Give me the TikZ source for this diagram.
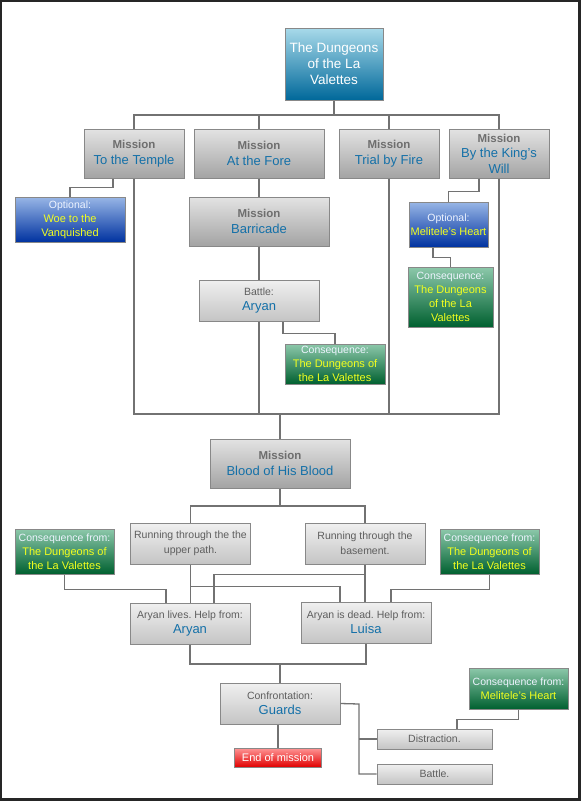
\documentclass[tikz,border=0pt]{standalone}
\usepackage{fontspec}
\setmainfont{Liberation Sans}
\frenchspacing
\definecolor{mgray}{HTML}{6E6E6E}
\definecolor{tblue}{HTML}{1470A8}
\definecolor{sgray}{HTML}{5E5E5E}
\definecolor{bordc}{HTML}{888888}
\definecolor{linec}{HTML}{727272}
\definecolor{ylw}{HTML}{F2FF1E}
\definecolor{pale}{HTML}{EEF4FF}
\newcommand\mlab[1]{{\bfseries\color{mgray}#1}}
\newcommand\ttl[1]{{\color{tblue}\fontsize{13}{16}\selectfont #1}}
\newcommand\yl[1]{{\color{ylw}\fontsize{11}{14}\selectfont #1}}
\tikzset{
  sz/.style 2 args={minimum width=#1pt, minimum height=#2pt},
  box/.style={draw=bordc, line width=1pt, inner sep=0pt, align=center, shading=axis},
  mis/.style={box, top color=black!11, bottom color=black!36, font=\fontsize{11.5}{15.5}\selectfont},
  lite/.style={box, top color=black!6, bottom color=black!23, text=sgray, font=\fontsize{10.5}{15}\selectfont},
  blu/.style={box, top color={rgb,255:red,152;green,182;blue,230}, middle color={rgb,255:red,50;green,100;blue,200}, bottom color={rgb,255:red,0;green,50;blue,160}, text=pale, font=\fontsize{10.5}{14}\selectfont},
  grn/.style={box, top color={rgb,255:red,140;green,200;blue,170}, middle color={rgb,255:red,10;green,140;blue,90}, bottom color={rgb,255:red,0;green,96;blue,48}, text=pale, font=\fontsize{10.5}{14}\selectfont},
  tea/.style={box, top color={rgb,255:red,168;green,218;blue,234}, middle color={rgb,255:red,0;green,150;blue,192}, bottom color={rgb,255:red,0;green,104;blue,154}, text=white, font=\fontsize{13.5}{16}\selectfont},
  rd/.style={box, top color={rgb,255:red,255;green,150;blue,150}, middle color={rgb,255:red,255;green,30;blue,30}, bottom color={rgb,255:red,225;green,0;blue,0}, text=white, font=\fontsize{11}{14}\selectfont},
  con/.style={draw=linec, line width=1.3pt}
}
\begin{document}
\begin{tikzpicture}[x=1pt,y=-1pt]
\useasboundingbox (0,0) rectangle (581,801);
\fill[black!85] (0,0) rectangle (581,801);
\fill[white] (2,2) rectangle (578,798);
% nodes
\node[tea, sz={98}{72}] (top) at (334,64) {The Dungeons\\of the La\\Valettes};
\node[mis, sz={100}{49}] (temple) at (134,153.5) {\mlab{Mission}\\\ttl{To the Temple}};
\node[mis, sz={130}{49}] (fore) at (259,153.5) {\mlab{Mission}\\\ttl{At the Fore}};
\node[mis, sz={100}{49}] (trial) at (389,153.5) {\mlab{Mission}\\\ttl{Trial by Fire}};
\node[mis, sz={100}{49}] (king) at (499,153.5) {\mlab{Mission}\\\ttl{By the King's}\\\ttl{Will}};
\node[blu, sz={110}{45}] (woe) at (70,219.5) {Optional:\\\yl{Woe to the}\\\yl{Vanquished}};
\node[mis, sz={140}{49}] (barricade) at (259,221.5) {\mlab{Mission}\\\ttl{Barricade}};
\node[blu, sz={79}{45}] (melopt) at (448.5,224.5) {Optional:\\\yl{Melitele's Heart}};
\node[grn, sz={85}{60}] (consK) at (450.5,297) {Consequence:\\\yl{The Dungeons}\\\yl{of the La}\\\yl{Valettes}};
\node[lite, sz={120}{41}] (battle) at (259,300.5) {Battle:\\\ttl{Aryan}};
\node[grn, sz={100}{40}] (consB) at (335,364) {Consequence:\\\yl{The Dungeons of}\\\yl{the La Valettes}};
\node[mis, sz={140}{49}] (blood) at (280,463.5) {\mlab{Mission}\\\ttl{Blood of His Blood}};
\node[lite, sz={120}{41}] (upper) at (190.5,543.5) {Running through the the\\upper path.};
\node[lite, sz={120}{41}] (basement) at (365,543.5) {Running through the\\basement.};
\node[grn, sz={99}{45}] (consL) at (64.5,551.5) {Consequence from:\\\yl{The Dungeons of}\\\yl{the La Valettes}};
\node[grn, sz={99}{45}] (consR) at (489.5,551.5) {Consequence from:\\\yl{The Dungeons of}\\\yl{the La Valettes}};
\node[lite, sz={120}{41}] (lives) at (190,623.5) {Aryan lives. Help from:\\\ttl{Aryan}};
\node[lite, sz={130}{41}] (dead) at (366,622.5) {Aryan is dead. Help from:\\\ttl{Luisa}};
\node[lite, sz={120}{41}] (guards) at (280,703.5) {Confrontation:\\\ttl{Guards}};
\node[grn, sz={99}{41}] (consM) at (518.5,688.5) {Consequence from:\\\yl{Melitele's Heart}};
\node[lite, sz={115}{20}] (distraction) at (434.5,739) {Distraction.};
\node[lite, sz={115}{20}] (battle2) at (434.5,774) {Battle.};
\node[rd, sz={87}{19}] (endm) at (278,757.5) {End of mission};
% connectors
\coordinate (busA) at (334,115);
\draw[con] (top.south) -- (busA);
\draw[con] (busA) -| (temple.north);
\draw[con] (busA) -| (fore.north);
\draw[con] (busA) -| (trial.north);
\draw[con] (busA) -| (king.north);
\draw[con] ([xshift=-21pt]temple.south) -- ++(0,9) -| (woe.north);
\draw[con] (fore.south) -- (barricade.north);
\draw[con] (barricade.south) -- (battle.north);
\draw[con] ([xshift=-20pt]king.south) -- ++(0,13) -| (melopt.north);
\draw[con] ([xshift=-15.5pt]melopt.south) -- ++(0,10) -| (consK.north);
\draw[con] ([xshift=24pt]battle.south) -- ++(0,12) -| (consB.north);
\coordinate (busB) at (280,414);
\draw[con] (temple.south) |- (busB);
\draw[con] (king.south) |- (busB);
\draw[con] (trial.south) -- (trial.south |- busB);
\draw[con] (battle.south) -- (battle.south |- busB);
\draw[con] (busB) -- (blood.north);
\coordinate (busC) at (280,506);
\draw[con] (blood.south) -- (busC);
\draw[con] (busC) -| (upper.north);
\draw[con] (busC) -| (basement.north);
\draw[con] (upper.south) -- (upper.south |- lives.north);
\draw[con] ([yshift=-22pt]upper.south) -| ([xshift=-26pt]dead.north);
\draw[con] (basement.south) -- (basement.south |- dead.north);
\draw[con] ([yshift=-10pt]basement.south) -| ([xshift=24pt]lives.north);
\draw[con] (consL.south) -- ++(0,15) -| ([xshift=-24pt]lives.north);
\draw[con] (consR.south) -- ++(0,15) -| ([xshift=25pt]dead.north);
\coordinate (busD) at (280,664);
\draw[con] (lives.south) |- (busD);
\draw[con] (dead.south) |- (busD);
\draw[con] (busD) -- (guards.north);
\coordinate (jG) at (359,704);
\draw[con] (guards.east) -- (jG) |- (battle2.west);
\draw[con] (jG |- distraction.west) -- (distraction.west);
\draw[con] (consM.south) -- ++(0,10) -| ([xshift=22.5pt]distraction.north);
\draw[con] ([xshift=-2pt]guards.south) -- ([xshift=-2pt]guards.south |- endm.north);
\end{tikzpicture}
\end{document}
